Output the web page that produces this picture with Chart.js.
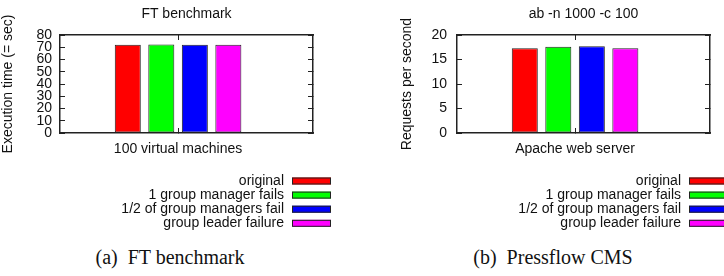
<!DOCTYPE html>
<html><head><meta charset="utf-8">
<script src="https://cdn.jsdelivr.net/npm/chart.js@4/dist/chart.umd.min.js"></script>
<style>
html,body{margin:0;padding:0;background:#fff;}
body{width:724px;height:276px;position:relative;overflow:hidden;}
canvas.c{position:absolute;top:0;}
.cap{position:absolute;font-family:"Liberation Serif","DejaVu Serif",serif;font-size:20px;line-height:24px;color:#111;white-space:pre;transform:translateX(-50%);top:245px;}
</style></head><body>
<canvas id="a" class="c" width="362" height="240" style="left:0"></canvas>
<canvas id="b" class="c" width="362" height="240" style="left:362px"></canvas>
<div class="cap" style="left:170px">(a)  FT benchmark</div>
<div class="cap" style="left:553px">(b)  Pressflow CMS</div>
<script>
// ---- data ----
const seriesNames = ['original', '1 group manager fails', '1/2 of group managers fail', 'group leader failure'];
const seriesColors = ['#ff0000', '#00ff00', '#0000ff', '#ff00ff'];

const ftCategories = ['100 virtual machines'];
const ftOriginal = [72];
const ftOneManager = [72.3];
const ftHalfManagers = [72];
const ftLeader = [72];
const ftYTicks = [0, 10, 20, 30, 40, 50, 60, 70, 80];

const pfCategories = ['Apache web server'];
const pfOriginal = [17.3];
const pfOneManager = [17.6];
const pfHalfManagers = [17.7];
const pfLeader = [17.3];
const pfYTicks = [0, 5, 10, 15, 20];

// ---- rendering ----
Chart.defaults.font.family = '"Liberation Sans", Arial, sans-serif';
Chart.defaults.font.size = 14;
Chart.defaults.color = '#111';

const FRAME = '#222';

const gnuLegend = {
  id: 'gnuLegend',
  afterDraw(chart, args, o) {
    const {ctx, chartArea} = chart;
    ctx.save();
    ctx.font = '14px "Liberation Sans", Arial, sans-serif';
    ctx.textAlign = 'right';
    ctx.textBaseline = 'middle';
    chart.data.datasets.forEach((ds, i) => {
      const y = chartArea.bottom + o.top + i * o.rowGap;
      ctx.fillStyle = '#111';
      ctx.fillText(ds.label, chartArea.right + o.textRight, y);
      const x = chartArea.right + o.swatchLeft;
      ctx.fillStyle = ds.backgroundColor;
      ctx.fillRect(x, y - o.swatchH / 2, o.swatchW, o.swatchH);
      ctx.strokeStyle = '#222';
      ctx.lineWidth = 1;
      ctx.strokeRect(x + 0.5, y - o.swatchH / 2 + 0.5, o.swatchW - 1, o.swatchH - 1);
    });
    ctx.restore();
  }
};

function makeChart(id, cfg) {
  const datasets = cfg.series.map((vals, s) => ({
    label: seriesNames[s],
    data: cfg.categories.map((c, i) => ({x: i, y: vals[i]})),
    backgroundColor: seriesColors[s],
    borderColor: '#222',
    borderWidth: 1,
    borderSkipped: false,
    categoryPercentage: 0.53,
    barPercentage: 0.776,
    xAxisID: 'x',
    yAxisID: 'y'
  }));
  const catTicks = (scale) => { scale.ticks = cfg.categories.map((c, i) => ({value: i})); };
  const yTicksFn = (scale) => { scale.ticks = cfg.yTicks.map(v => ({value: v})); };
  const xRange = {min: -0.7, max: 0.8};
  return new Chart(document.getElementById(id), {
    type: 'bar',
    data: {datasets},
    plugins: [gnuLegend],
    options: {
      responsive: false,
      animation: false,
      events: [],
      layout: {padding: 0},
      plugins: {
        legend: {display: false},
        tooltip: {enabled: false},
        gnuLegend: {top: 48, rowGap: 14.1, textRight: -29, swatchLeft: -21, swatchW: 39, swatchH: 7}
      },
      scales: {
        x: {
          type: 'linear', position: 'bottom', offset: false, ...xRange,
          afterBuildTicks: catTicks,
          afterFit: (s) => { s.height = 240 - 133; },
          grid: {drawOnChartArea: false, offset: false, tickLength: -5, color: FRAME},
          border: {color: FRAME, width: 1.5},
          ticks: {padding: 13, callback: (v) => cfg.categories[v], color: '#111', maxRotation: 0, autoSkip: false}
        },
        x2: {
          type: 'linear', position: 'top', offset: false, ...xRange,
          afterBuildTicks: catTicks,
          afterFit: (s) => { s.height = 35; },
          grid: {drawOnChartArea: false, offset: false, tickLength: -5, color: FRAME},
          border: {color: FRAME, width: 1.5},
          ticks: {display: false},
          title: {display: true, text: cfg.title, padding: {top: 5.5, bottom: 0}, color: '#111', font: {size: 14}}
        },
        y: {
          type: 'linear', position: 'left', min: 0, max: cfg.yMax,
          afterBuildTicks: yTicksFn,
          afterFit: (s) => { s.width = cfg.yWidth; },
          grid: {drawOnChartArea: false, tickLength: -5, color: FRAME},
          border: {color: FRAME, width: 1.5},
          ticks: {padding: cfg.tickPad, autoSkip: false, color: '#111'},
          title: {display: true, text: cfg.yTitle, padding: {top: cfg.yTitlePad, bottom: 0}, color: '#111', font: {size: 14}}
        },
        y2: {
          type: 'linear', position: 'right', min: 0, max: cfg.yMax,
          afterBuildTicks: yTicksFn,
          afterFit: (s) => { s.width = cfg.y2Width; },
          grid: {drawOnChartArea: false, tickLength: -5, color: FRAME},
          border: {color: FRAME, width: 1.5},
          ticks: {display: false}
        }
      }
    }
  });
}

makeChart('a', {
  title: 'FT benchmark', yTitle: 'Execution time (= sec)',
  categories: ftCategories,
  series: [ftOriginal, ftOneManager, ftHalfManagers, ftLeader],
  yTicks: ftYTicks, yMax: 80,
  yWidth: 60, y2Width: 49, tickPad: 13, yTitlePad: 0
});
makeChart('b', {
  title: 'ab -n 1000 -c 100', yTitle: 'Requests per second',
  categories: pfCategories,
  series: [pfOriginal, pfOneManager, pfHalfManagers, pfLeader],
  yTicks: pfYTicks, yMax: 20,
  yWidth: 95, y2Width: 14, tickPad: 15, yTitlePad: 36.6
});
</script>
</body></html>
